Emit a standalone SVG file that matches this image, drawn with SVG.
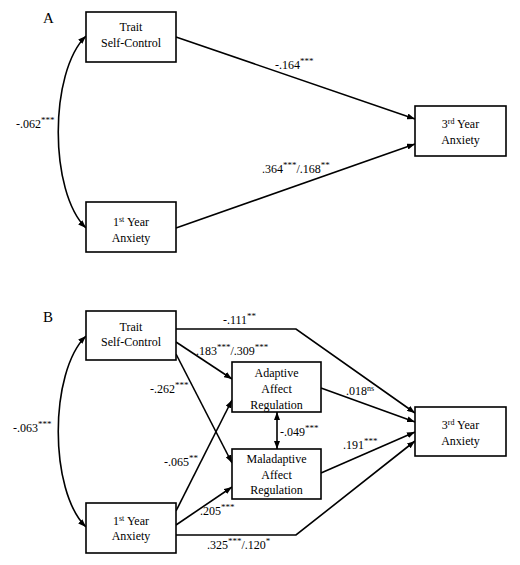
<svg xmlns="http://www.w3.org/2000/svg" width="520" height="565" viewBox="0 0 520 565">
<style>
  .box { fill: #ffffff; stroke: #000000; stroke-width: 1.6; }
  .t { font-family: "Liberation Serif", "Times New Roman", serif; font-size: 12px; fill: #000000; }
  .c { text-anchor: middle; }
  .panel { font-family: "Liberation Serif", "Times New Roman", serif; font-size: 15px; fill: #000000; }
  .ln { fill: none; stroke: #000000; stroke-width: 1.6; }
  .arr { marker-end: url(#ah); }
  .dbl { marker-start: url(#ahs); marker-end: url(#ah); }
</style>
<defs>
  <marker id="ah" markerWidth="8" markerHeight="6" refX="8" refY="3" orient="auto" markerUnits="userSpaceOnUse">
    <path d="M0,0 L8,3 L0,6 z" fill="#000000"/>
  </marker>
  <marker id="ahs" markerWidth="8" markerHeight="6" refX="8" refY="3" orient="auto-start-reverse" markerUnits="userSpaceOnUse">
    <path d="M0,0 L8,3 L0,6 z" fill="#000000"/>
  </marker>
</defs>
<rect x="0" y="0" width="520" height="565" fill="#ffffff"/>

<text class="panel" x="43" y="23">A</text>
<text class="panel" x="43" y="322">B</text>

<g id="connectors">
  <!-- Panel A -->
  <path class="ln dbl" d="M86,36 C49,72 49,192 86,228"/>
  <path class="ln arr" d="M176,37 L415,119"/>
  <path class="ln arr" d="M176,228 L415,144"/>
  <!-- Panel B -->
  <path class="ln dbl" d="M86,336 C49,372 49,491 86,527"/>
  <path class="ln arr" d="M176,329 L296,329 L415,413"/>
  <path class="ln arr" d="M176,342 L232,379"/>
  <path class="ln arr" d="M176,354 L232,463"/>
  <path class="ln arr" d="M176,511 L232,400"/>
  <path class="ln arr" d="M176,525 L232,487"/>
  <path class="ln arr" d="M176,535 L296,535 L415,441"/>
  <path class="ln arr" d="M321,388 L415,422"/>
  <path class="ln arr" d="M321,473 L415,432"/>
  <path class="ln dbl" d="M277,412 L277,449"/>
</g>

<g id="labels">
  <text class="t" x="16" y="128">-.062<tspan font-size="9" dy="-5">***</tspan></text>
  <text class="t" x="275" y="69">-.164<tspan font-size="9" dy="-5">***</tspan></text>
  <text class="t" x="262" y="173">.364<tspan font-size="9" dy="-5">***</tspan><tspan dy="5">/.168</tspan><tspan font-size="9" dy="-5">**</tspan></text>

  <text class="t" x="13" y="432">-.063<tspan font-size="9" dy="-5">***</tspan></text>
  <text class="t" x="223" y="324">-.111<tspan font-size="9" dy="-5">**</tspan></text>
  <text class="t" x="196" y="355">.183<tspan font-size="9" dy="-5">***</tspan><tspan dy="5">/.309</tspan><tspan font-size="9" dy="-5">***</tspan></text>
  <text class="t" x="150" y="393">-.262<tspan font-size="9" dy="-5">***</tspan></text>
  <text class="t" x="164" y="466">-.065<tspan font-size="9" dy="-5">**</tspan></text>
  <text class="t" x="200" y="515">.205<tspan font-size="9" dy="-5">***</tspan></text>
  <text class="t" x="207" y="549">.325<tspan font-size="9" dy="-5">***</tspan><tspan dy="5">/.120</tspan><tspan font-size="9" dy="-5">*</tspan></text>
  <text class="t" x="346" y="395">.018<tspan font-size="8" dy="-4">ns</tspan></text>
  <text class="t" x="343" y="449">.191<tspan font-size="9" dy="-5">***</tspan></text>
  <text class="t" x="280" y="436">-.049<tspan font-size="9" dy="-5">***</tspan></text>
</g>

<g id="a-trait">
  <rect class="box" x="86" y="12" width="90" height="50"/>
  <text class="t c" x="131" y="31">Trait</text>
  <text class="t c" x="131" y="47">Self-Control</text>
</g>
<g id="a-first">
  <rect class="box" x="86" y="202" width="90" height="50"/>
  <text class="t c" x="131" y="226">1<tspan font-size="8" dy="-4">st</tspan><tspan dy="4"> Year</tspan></text>
  <text class="t c" x="131" y="242">Anxiety</text>
</g>
<g id="a-third">
  <rect class="box" x="415" y="106" width="91" height="50"/>
  <text class="t c" x="460.5" y="128">3<tspan font-size="8" dy="-4">rd</tspan><tspan dy="4"> Year</tspan></text>
  <text class="t c" x="460.5" y="144">Anxiety</text>
</g>

<g id="b-trait">
  <rect class="box" x="86" y="311" width="90" height="49"/>
  <text class="t c" x="131" y="331">Trait</text>
  <text class="t c" x="131" y="346">Self-Control</text>
</g>
<g id="b-first">
  <rect class="box" x="86" y="503" width="90" height="50"/>
  <text class="t c" x="131" y="525">1<tspan font-size="8" dy="-4">st</tspan><tspan dy="4"> Year</tspan></text>
  <text class="t c" x="131" y="540">Anxiety</text>
</g>
<g id="b-adaptive">
  <rect class="box" x="232" y="362" width="89" height="50"/>
  <text class="t c" x="276.5" y="377">Adaptive</text>
  <text class="t c" x="276.5" y="393">Affect</text>
  <text class="t c" x="276.5" y="409">Regulation</text>
</g>
<g id="b-maladaptive">
  <rect class="box" x="232" y="449" width="89" height="50"/>
  <text class="t c" x="276.5" y="463">Maladaptive</text>
  <text class="t c" x="276.5" y="479">Affect</text>
  <text class="t c" x="276.5" y="494">Regulation</text>
</g>
<g id="b-third">
  <rect class="box" x="415" y="407" width="91" height="49"/>
  <text class="t c" x="460.5" y="429">3<tspan font-size="8" dy="-4">rd</tspan><tspan dy="4"> Year</tspan></text>
  <text class="t c" x="460.5" y="445">Anxiety</text>
</g>
</svg>
